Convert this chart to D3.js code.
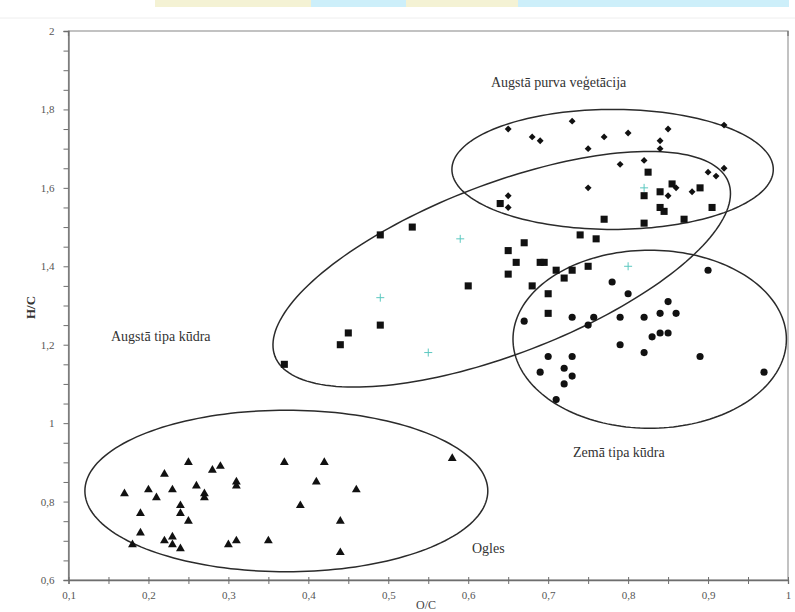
<!DOCTYPE html>
<html>
<head>
<meta charset="utf-8">
<script src="https://cdn.jsdelivr.net/npm/d3@7"></script>
<style>
  body { margin: 0; background: #fff; }
  svg { display: block; }
  text { font-family: "Liberation Serif", "DejaVu Serif", serif; }
</style>
</head>
<body>
<svg id="chart" width="795" height="612"></svg>
<script>
// Axis ticks
const xTickLabels = [0.1, 0.2, 0.3, 0.4, 0.5, 0.6, 0.7, 0.8, 0.9, 1];
const yTickLabels = [0.6, 0.8, 1, 1.2, 1.4, 1.6, 1.8, 2];

// Augstā purva veģetācija (diamonds): [O/C, H/C]
const purvaVegetacija = [
  [0.65,1.75],[0.73,1.77],[0.68,1.73],[0.69,1.72],[0.77,1.73],[0.80,1.74],
  [0.85,1.75],[0.92,1.76],[0.84,1.72],[0.84,1.70],[0.75,1.70],[0.79,1.66],
  [0.82,1.67],[0.90,1.64],[0.91,1.63],[0.92,1.65],[0.75,1.60],[0.86,1.60],
  [0.85,1.58],[0.88,1.59],[0.65,1.58],[0.65,1.55]
];

// Augstā tipa kūdra (squares)
const augstaKudra = [
  [0.64,1.56],[0.77,1.52],[0.74,1.48],[0.76,1.47],[0.825,1.64],[0.855,1.61],
  [0.84,1.59],[0.82,1.58],[0.84,1.55],[0.845,1.54],[0.89,1.60],[0.905,1.55],
  [0.87,1.52],[0.82,1.51],[0.67,1.46],[0.65,1.44],[0.66,1.41],[0.69,1.41],
  [0.695,1.41],[0.65,1.38],[0.71,1.39],[0.72,1.37],[0.73,1.39],[0.75,1.40],
  [0.68,1.35],[0.70,1.33],[0.70,1.28],[0.49,1.48],[0.53,1.50],[0.60,1.35],
  [0.49,1.25],[0.45,1.23],[0.44,1.20],[0.37,1.15]
];

// Zemā tipa kūdra (circles)
const zemaKudra = [
  [0.78,1.36],[0.80,1.33],[0.67,1.26],[0.73,1.27],[0.757,1.27],[0.75,1.25],
  [0.79,1.27],[0.79,1.20],[0.70,1.17],[0.73,1.17],[0.69,1.13],[0.72,1.14],
  [0.73,1.12],[0.72,1.10],[0.71,1.06],[0.90,1.39],[0.85,1.31],[0.84,1.28],
  [0.86,1.28],[0.82,1.27],[0.84,1.23],[0.85,1.23],[0.83,1.22],[0.82,1.18],
  [0.89,1.17],[0.97,1.13]
];

// Ogles (triangles)
const ogles = [
  [0.17,0.82],[0.19,0.77],[0.19,0.72],[0.18,0.69],[0.20,0.83],[0.21,0.81],
  [0.22,0.87],[0.23,0.83],[0.22,0.70],[0.23,0.71],[0.23,0.69],[0.24,0.79],
  [0.24,0.77],[0.25,0.75],[0.24,0.68],[0.25,0.90],[0.26,0.84],[0.27,0.82],
  [0.27,0.81],[0.28,0.88],[0.29,0.89],[0.31,0.85],[0.31,0.84],[0.30,0.69],
  [0.31,0.70],[0.35,0.70],[0.37,0.90],[0.39,0.79],[0.41,0.85],[0.42,0.90],
  [0.44,0.75],[0.44,0.67],[0.46,0.83],[0.58,0.91]
];

// Additional samples (thin cyan crosses)
const citiParaugi = [
  [0.59,1.47],[0.49,1.32],[0.55,1.18],[0.82,1.60],[0.80,1.40]
];

// Group outlines: centre and two conjugate half-axis vectors, in O/C and H/C units
const ellipseCentres = [[0.7806,1.647],[0.6419,1.3924],[0.827,1.214],[0.3725,0.827]];
const ellipseAxisU   = [[0.201,0],[0.2836,0.2221],[0.171,0],[0.252,0]];
const ellipseAxisV   = [[0,0.153],[0.0381,-0.2024],[0,0.227],[0,0.206]];

const svg = d3.select("#chart");
const W = 795, H = 612;
const plotLeft = 68.5, plotRight = 788, plotTop = 31, plotBottom = 580;

const x = d3.scaleLinear().domain([0.1, 1]).range([plotLeft, plotRight]);
const y = d3.scaleLinear().domain([0.6, 2]).range([plotBottom, plotTop]);

// Decorative header band
const band = [[155,311,"#f4f2d4"],[311,406,"#cdeffa"],[406,518,"#f4f2d4"],[518,789,"#cdeffa"]];
svg.selectAll("rect.band").data(band).join("rect")
  .attr("class","band")
  .attr("x", d => d[0]).attr("y", 0)
  .attr("width", d => d[1]-d[0]).attr("height", 7)
  .attr("fill", d => d[2]);
svg.append("line").attr("x1",0).attr("x2",W).attr("y1",18).attr("y2",18)
  .attr("stroke","#eeeeee").attr("stroke-width",1);

const fmt = v => String(v).replace(".", ",");
const axisColor = "#6e6e6e";
const labelColor = "#555";

// Frame
svg.append("rect")
  .attr("x", plotLeft).attr("y", plotTop)
  .attr("width", plotRight-plotLeft).attr("height", plotBottom-plotTop)
  .attr("fill","none").attr("stroke","#9a9a9a").attr("stroke-width",1.2);

// X axis
const xMinor = d3.range(0.1, 1.0001, 0.05).map(v => +v.toFixed(2));
const gx = svg.append("g").attr("transform", `translate(0,${plotBottom})`)
  .call(d3.axisBottom(x).tickValues(xMinor).tickSize(4).tickPadding(7)
    .tickFormat(d => xTickLabels.some(t => Math.abs(t-d) < 1e-6) ? fmt(d) : ""));
gx.select(".domain").attr("stroke", axisColor).attr("stroke-width",1.3);
gx.selectAll(".tick line").attr("stroke", axisColor).attr("y1",-3).attr("y2",4);
gx.selectAll(".tick text").attr("fill", labelColor)
  .style("font-family","Liberation Serif, serif").style("font-size","11px");

// Y axis
const yMinor = d3.range(0.6, 2.0001, 0.05).map(v => +v.toFixed(2));
const gy = svg.append("g").attr("transform", `translate(${plotLeft},0)`)
  .call(d3.axisLeft(y).tickValues(yMinor).tickSize(5).tickPadding(9)
    .tickFormat(d => yTickLabels.some(t => Math.abs(t-d) < 1e-6) ? fmt(d) : ""));
gy.select(".domain").attr("stroke", axisColor).attr("stroke-width",1.3);
gy.selectAll(".tick line").attr("stroke", axisColor);
gy.selectAll(".tick text").attr("fill", labelColor)
  .style("font-family","Liberation Serif, serif").style("font-size","11px");

// Top edge end ticks
[plotLeft, plotRight].forEach(px => {
  svg.append("line").attr("x1",px).attr("x2",px).attr("y1",plotTop).attr("y2",plotTop+5)
    .attr("stroke", axisColor).attr("stroke-width",1.2);
});

// Axis titles
svg.append("text")
  .attr("transform", `translate(35,${(plotTop+plotBottom)/2+2}) rotate(-90)`)
  .attr("text-anchor","middle")
  .attr("fill","#333").style("font-size","13px").style("font-weight","bold")
  .text("H/C");
svg.append("text")
  .attr("x", 426).attr("y", 609)
  .attr("text-anchor","middle")
  .attr("fill","#444").style("font-size","12px")
  .text("O/C");

// Group outlines
const outline = d3.line().x(d => x(d[0])).y(d => y(d[1])).curve(d3.curveLinearClosed);
const ellipses = ellipseCentres.map((c, i) => {
  const u = ellipseAxisU[i], v = ellipseAxisV[i];
  return d3.range(0, 180).map(k => {
    const t = k / 180 * 2 * Math.PI;
    return [c[0] + u[0]*Math.cos(t) + v[0]*Math.sin(t),
            c[1] + u[1]*Math.cos(t) + v[1]*Math.sin(t)];
  });
});
svg.append("g").selectAll("path").data(ellipses).join("path")
  .attr("d", outline)
  .attr("fill","none").attr("stroke","#2b2b2b").attr("stroke-width",1.5);

// Markers
const markerFill = "#111";
function drawSeries(data, type, size) {
  svg.append("g").selectAll("path").data(data).join("path")
    .attr("transform", d => `translate(${x(d[0])},${y(d[1])})`)
    .attr("d", d3.symbol().type(type).size(size))
    .attr("fill", markerFill);
}
drawSeries(purvaVegetacija, d3.symbolDiamond2, 30);
drawSeries(augstaKudra, d3.symbolSquare, 50);
drawSeries(zemaKudra, d3.symbolCircle, 40);
drawSeries(ogles, d3.symbolTriangle, 34);

// Thin crosses
const cross = svg.append("g").selectAll("g").data(citiParaugi).join("g")
  .attr("transform", d => `translate(${x(d[0])},${y(d[1])})`);
cross.append("line").attr("x1",-4).attr("x2",4).attr("y1",0).attr("y2",0)
  .attr("stroke","#5cc8c0").attr("stroke-width",1);
cross.append("line").attr("x1",0).attr("x2",0).attr("y1",-4).attr("y2",4)
  .attr("stroke","#5cc8c0").attr("stroke-width",1);

// Group names
const names = [
  ["Augstā purva veģetācija", 491, 87],
  ["Augstā tipa kūdra", 111, 341],
  ["Zemā tipa kūdra", 573, 457],
  ["Ogles", 472, 553]
];
svg.append("g").selectAll("text").data(names).join("text")
  .attr("x", d => d[1]).attr("y", d => d[2])
  .attr("fill","#333").style("font-size","14px")
  .text(d => d[0]);
</script>
</body>
</html>
